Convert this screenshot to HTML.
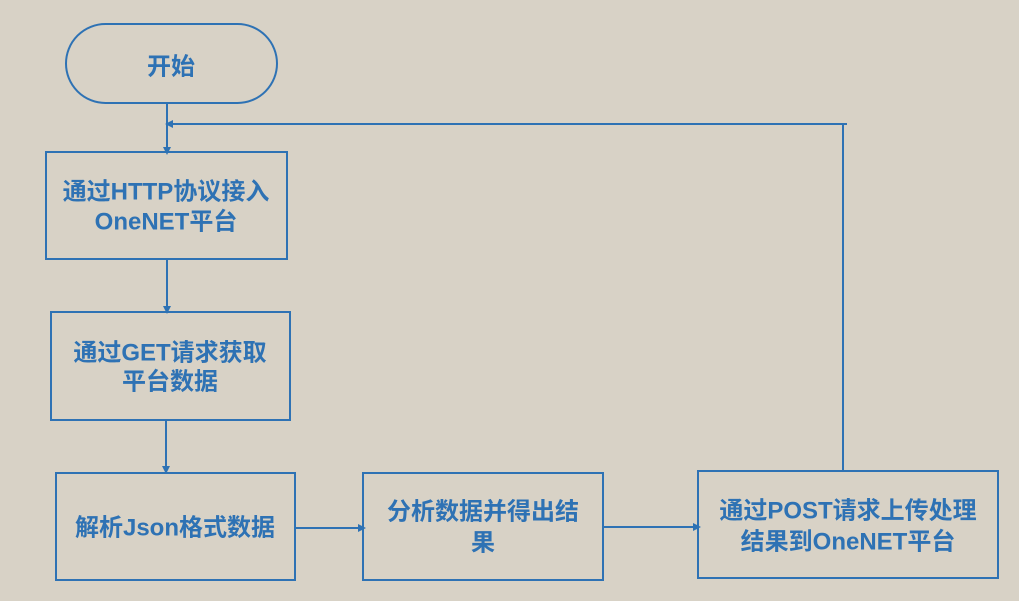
<!DOCTYPE html>
<html><head><meta charset="utf-8"><style>
html,body{margin:0;padding:0;background:#d8d2c6;}
svg{display:block}
text{font-family:"Liberation Sans","Noto Sans CJK SC",sans-serif;font-weight:bold;font-size:24px;fill:#2e72b4;text-anchor:middle;dominant-baseline:middle}
</style></head><body>
<svg width="1019" height="601" viewBox="0 0 1019 601">
<rect width="1019" height="601" fill="#d8d2c6"/>
<g fill="none" stroke="#2e72b4" stroke-width="2">
<rect x="66" y="24" width="211" height="79" rx="39.5"/>
<rect x="46" y="152" width="241" height="107"/>
<rect x="51" y="312" width="239" height="108"/>
<rect x="56" y="473" width="239" height="107"/>
<rect x="363" y="473" width="240" height="107"/>
<rect x="698" y="471" width="300" height="107"/>
<path d="M167 103V148M167 259V308M166 420V469M295 528H359M603 527H694M843 471V124M847 124H171"/>
</g>
<g fill="#2e72b4">
<path d="M163 147L171 147L167 155Z"/>
<path d="M163 306L171 306L167 314Z"/>
<path d="M162 466L170 466L166 474Z"/>
<path d="M358 524L358 532L366 528Z"/>
<path d="M693 523L693 531L701 527Z"/>
<path d="M173 120L173 128L165 124Z"/>
</g>
<text x="171" y="68">开始</text>
<text x="166" y="193">通过HTTP协议接入</text>
<text x="166" y="223">OneNET平台</text>
<text x="170" y="354">通过GET请求获取</text>
<text x="170" y="383">平台数据</text>
<text x="175" y="529">解析Json格式数据</text>
<text x="483" y="513">分析数据并得出结</text>
<text x="483" y="544">果</text>
<text x="848" y="512">通过POST请求上传处理</text>
<text x="848" y="543">结果到OneNET平台</text>
</svg>
</body></html>
